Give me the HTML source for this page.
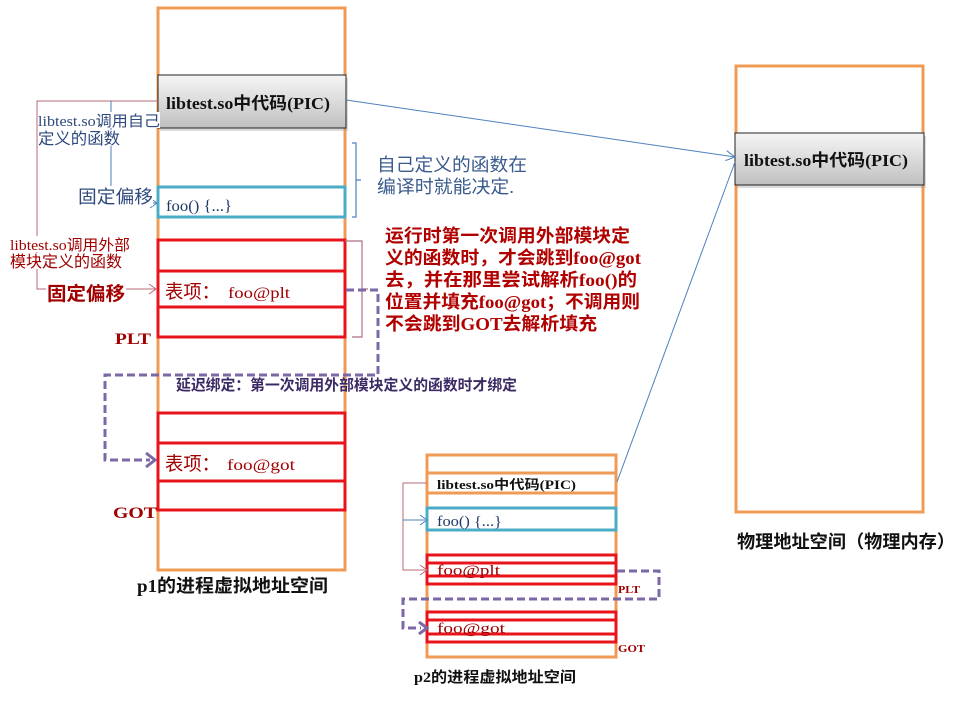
<!DOCTYPE html>
<html><head><meta charset="utf-8">
<style>
html,body{margin:0;padding:0;background:#fff;}
svg{display:block;}
text{font-family:"Liberation Serif","Noto Sans CJK SC",serif;}
.cj{font-family:"Liberation Serif","Noto Sans CJK SC",sans-serif;}
</style></head><body>
<svg width="960" height="720" viewBox="0 0 960 720" xmlns="http://www.w3.org/2000/svg">
<defs>
<linearGradient id="g" x1="0" y1="0" x2="0" y2="1">
<stop offset="0" stop-color="#f6f6f6"/><stop offset="1" stop-color="#c0c0c0"/>
</linearGradient>
</defs>
<rect width="960" height="720" fill="#fff"/>

<!-- p1 column -->
<rect x="158" y="8" width="187" height="562" fill="#fff" stroke="#EF9B55" stroke-width="3"/>
<rect x="160" y="78" width="188" height="53" fill="#999" opacity="0.35"/>
<rect x="158" y="75" width="188" height="53" fill="url(#g)" stroke="#222" stroke-width="1"/>
<rect x="158" y="187" width="187" height="30" fill="none" stroke="#4BACC6" stroke-width="3"/>
<rect x="158" y="240" width="187" height="97" fill="none" stroke="#E8141B" stroke-width="3"/>
<line x1="158" y1="271" x2="345" y2="271" stroke="#E8141B" stroke-width="3"/>
<line x1="158" y1="307" x2="345" y2="307" stroke="#E8141B" stroke-width="3"/>
<rect x="158" y="413" width="187" height="97" fill="none" stroke="#E8141B" stroke-width="3"/>
<line x1="158" y1="443" x2="345" y2="443" stroke="#E8141B" stroke-width="3"/>
<line x1="158" y1="481" x2="345" y2="481" stroke="#E8141B" stroke-width="3"/>

<!-- right column -->
<rect x="736" y="66" width="187" height="446" fill="#fff" stroke="#EF9B55" stroke-width="3"/>
<rect x="737" y="136" width="189" height="52" fill="#999" opacity="0.35"/>
<rect x="735" y="133" width="189" height="52" fill="url(#g)" stroke="#222" stroke-width="1"/>

<!-- p2 column -->
<rect x="427" y="455" width="189" height="202" fill="#fff" stroke="#EF9B55" stroke-width="3"/>
<line x1="427" y1="473" x2="616" y2="473" stroke="#EF9B55" stroke-width="3"/>
<line x1="427" y1="493" x2="616" y2="493" stroke="#EF9B55" stroke-width="3"/>
<rect x="427" y="508" width="189" height="22" fill="none" stroke="#4BACC6" stroke-width="3"/>
<rect x="427" y="555" width="189" height="29" fill="none" stroke="#E8141B" stroke-width="3"/>
<line x1="427" y1="563" x2="616" y2="563" stroke="#E8141B" stroke-width="3"/>
<line x1="427" y1="576" x2="616" y2="576" stroke="#E8141B" stroke-width="3"/>
<rect x="427" y="612" width="189" height="30" fill="none" stroke="#E8141B" stroke-width="3"/>
<line x1="427" y1="620" x2="616" y2="620" stroke="#E8141B" stroke-width="3"/>
<line x1="427" y1="634" x2="616" y2="634" stroke="#E8141B" stroke-width="3"/>

<!-- long blue lines -->
<line x1="346" y1="100" x2="735" y2="157" stroke="#4F81BD" stroke-width="1"/>
<path d="M726.8,150.7 L735,157 L725.4,160.6" fill="none" stroke="#4F81BD" stroke-width="1"/>
<line x1="617" y1="482" x2="735" y2="162" stroke="#4F81BD" stroke-width="1"/>

<!-- p1 connectors -->
<path d="M158,101 H37 V289 H155" fill="none" stroke="#B86878" stroke-width="1"/>
<path d="M149,284 L156,289 L149,294" fill="none" stroke="#B86878" stroke-width="1"/>
<path d="M111,101 V203 H156" fill="none" stroke="#4F81BD" stroke-width="1"/>
<path d="M150,198 L157,203 L150,208" fill="none" stroke="#4F81BD" stroke-width="1"/>

<!-- p2 connectors -->
<path d="M427,483 H403 V570 H425" fill="none" stroke="#B86878" stroke-width="1"/>
<path d="M420,565 L427,570 L420,575" fill="none" stroke="#B86878" stroke-width="1"/>
<path d="M403,520 H425" fill="none" stroke="#4F81BD" stroke-width="1"/>
<path d="M420,515 L427,520 L420,525" fill="none" stroke="#4F81BD" stroke-width="1"/>

<!-- brackets -->
<path d="M352,143 H356 V217 H352 M356,180 H361" fill="none" stroke="#4F81BD" stroke-width="1.2"/>
<path d="M345,241 H362 V337 H352 M362,289 H368" fill="none" stroke="#B07080" stroke-width="1.2"/>

<!-- dashed purple -->
<path d="M346,290 H378 V375 H105 V460 H150" fill="none" stroke="#7B68A6" stroke-width="3" stroke-dasharray="8 4"/>
<path d="M146,453 L155,460 L146,467" fill="none" stroke="#7B68A6" stroke-width="3"/>
<path d="M617,571 H659 V599 H403 V628 H421" fill="none" stroke="#7B68A6" stroke-width="3" stroke-dasharray="8 4"/>
<path d="M419,622 L427,628 L419,634" fill="none" stroke="#7B68A6" stroke-width="3"/>

<!-- white backgrounds for left labels -->
<rect x="38" y="112" width="122" height="16" fill="#fff"/>
<rect x="38" y="130" width="84" height="16" fill="#fff"/>
<rect x="76" y="186" width="77" height="20" fill="#fff"/>
<rect x="10" y="236" width="121" height="16" fill="#fff"/>
<rect x="10" y="253" width="113" height="16" fill="#fff"/>
<rect x="46" y="283" width="80" height="20" fill="#fff"/>

<!-- texts p1 -->
<text x="166" y="109" font-size="17" font-weight="bold" fill="#111" textLength="164" lengthAdjust="spacingAndGlyphs">libtest.so中代码(PIC)</text>
<text x="38" y="126" font-size="15" fill="#2E4A7D" textLength="122" lengthAdjust="spacingAndGlyphs">libtest.so调用自己</text>
<text x="38" y="144" font-size="16" fill="#2E4A7D" textLength="82" lengthAdjust="spacingAndGlyphs">定义的函数</text>
<text x="78" y="203" font-size="18" fill="#2E4A7D" textLength="75" lengthAdjust="spacingAndGlyphs">固定偏移</text>
<text x="166" y="211" font-size="16" fill="#1F3864" textLength="66" lengthAdjust="spacingAndGlyphs">foo() {...}</text>

<text x="10" y="250" font-size="15" fill="#A00000" textLength="120" lengthAdjust="spacingAndGlyphs">libtest.so调用外部</text>
<text x="10" y="267" font-size="16" fill="#A00000" textLength="112" lengthAdjust="spacingAndGlyphs">模块定义的函数</text>
<text x="47" y="300" font-size="19" font-weight="bold" fill="#A00000" textLength="78" lengthAdjust="spacingAndGlyphs">固定偏移</text>

<text x="165" y="298" font-size="19" fill="#A00000" textLength="55" lengthAdjust="spacingAndGlyphs">表项：</text>
<text x="228" y="298" font-size="16" fill="#A00000" textLength="62" lengthAdjust="spacingAndGlyphs">foo@plt</text>
<text x="115" y="344" font-size="16" font-weight="bold" fill="#A00000" textLength="36" lengthAdjust="spacingAndGlyphs">PLT</text>

<text x="165" y="470" font-size="19" fill="#A00000" textLength="55" lengthAdjust="spacingAndGlyphs">表项：</text>
<text x="227" y="470" font-size="16" fill="#A00000" textLength="68" lengthAdjust="spacingAndGlyphs">foo@got</text>
<text x="113" y="518" font-size="16" font-weight="bold" fill="#A00000" textLength="44" lengthAdjust="spacingAndGlyphs">GOT</text>

<text x="137" y="592" font-size="18" font-weight="bold" fill="#111" textLength="191" lengthAdjust="spacingAndGlyphs">p1的进程虚拟地址空间</text>

<text x="176" y="390" font-size="15" font-weight="bold" fill="#3C2A66" textLength="341" lengthAdjust="spacingAndGlyphs">延迟绑定：第一次调用外部模块定义的函数时才绑定</text>

<!-- right side notes -->
<text x="377" y="171" font-size="18" fill="#3B5B8E" textLength="150" lengthAdjust="spacingAndGlyphs">自己定义的函数在</text>
<text x="377" y="193" font-size="18" fill="#3B5B8E" textLength="137" lengthAdjust="spacingAndGlyphs">编译时就能决定.</text>

<text x="385" y="242" font-size="18" font-weight="bold" fill="#B00000" textLength="245" lengthAdjust="spacingAndGlyphs">运行时第一次调用外部模块定</text>
<text x="385" y="264" font-size="18" font-weight="bold" fill="#B00000" textLength="256" lengthAdjust="spacingAndGlyphs">义的函数时，才会跳到foo@got</text>
<text x="385" y="286" font-size="18" font-weight="bold" fill="#B00000" textLength="252" lengthAdjust="spacingAndGlyphs">去，并在那里尝试解析foo()的</text>
<text x="385" y="308" font-size="18" font-weight="bold" fill="#B00000" textLength="255" lengthAdjust="spacingAndGlyphs">位置并填充foo@got；不调用则</text>
<text x="385" y="330" font-size="18" font-weight="bold" fill="#B00000" textLength="212" lengthAdjust="spacingAndGlyphs">不会跳到GOT去解析填充</text>

<!-- right column text -->
<text x="744" y="166" font-size="17" font-weight="bold" fill="#111" textLength="164" lengthAdjust="spacingAndGlyphs">libtest.so中代码(PIC)</text>
<text x="737" y="548" font-size="18" font-weight="bold" fill="#111" textLength="218" lengthAdjust="spacingAndGlyphs">物理地址空间（物理内存）</text>

<!-- p2 texts -->
<text x="437" y="489" font-size="13" font-weight="bold" fill="#111" textLength="139" lengthAdjust="spacingAndGlyphs">libtest.so中代码(PIC)</text>
<text x="437" y="526" font-size="15" fill="#1F3864" textLength="65" lengthAdjust="spacingAndGlyphs">foo() {...}</text>
<text x="437" y="575" font-size="15" fill="#A00000" textLength="63" lengthAdjust="spacingAndGlyphs">foo@plt</text>
<text x="437" y="633" font-size="15" fill="#A00000" textLength="68" lengthAdjust="spacingAndGlyphs">foo@got</text>
<text x="618" y="593" font-size="11" font-weight="bold" fill="#A00000" textLength="22" lengthAdjust="spacingAndGlyphs">PLT</text>
<text x="618" y="652" font-size="11" font-weight="bold" fill="#A00000" textLength="27" lengthAdjust="spacingAndGlyphs">GOT</text>
<text x="414" y="682" font-size="15" font-weight="bold" fill="#111" textLength="162" lengthAdjust="spacingAndGlyphs">p2的进程虚拟地址空间</text>
</svg>
</body></html>
